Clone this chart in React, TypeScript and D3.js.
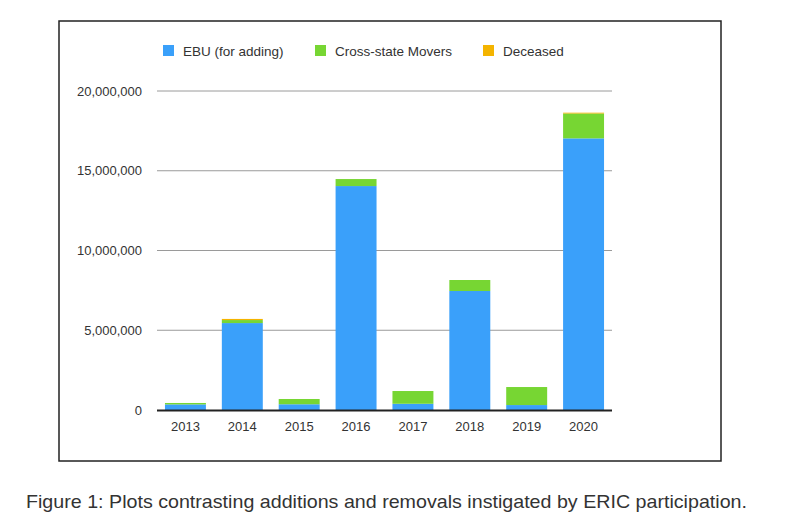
import { useEffect, useRef } from "react";
import * as d3 from "d3";

const years = ["2013", "2014", "2015", "2016", "2017", "2018", "2019", "2020"];
const ebu = [350000, 5450000, 360000, 14040000, 390000, 7460000, 310000, 17030000];
const movers = [90000, 190000, 330000, 440000, 800000, 690000, 1130000, 1560000];
const deceased = [0, 70000, 0, 0, 0, 0, 0, 50000];
const seriesNames = ["EBU (for adding)", "Cross-state Movers", "Deceased"];
const colors = ["#3aa0fa", "#77d633", "#f4b400"];
const yTicks = [0, 5000000, 10000000, 15000000, 20000000];
const caption = "Figure 1: Plots contrasting additions and removals instigated by ERIC participation.";

export default function App() {
  const ref = useRef<SVGSVGElement>(null);

  useEffect(() => {
    if (!ref.current) return;
    const svg = d3.select(ref.current);
    svg.selectAll("*").remove();
    const font = "'Liberation Sans', Arial, sans-serif";

    // outer frame
    svg.append("rect").attr("x", 59).attr("y", 21).attr("width", 662).attr("height", 440)
      .attr("fill", "none").attr("stroke", "#222").attr("stroke-width", 1.5);

    const x = d3.scaleBand().domain(years).range([157, 612]).paddingInner(0.28).paddingOuter(0.14);
    const y = d3.scaleLinear().domain([0, 20000000]).range([410, 91]);

    // gridlines
    svg.append("g").selectAll("line").data(yTicks.filter(t => t > 0)).join("line")
      .attr("x1", 157).attr("x2", 612).attr("y1", d => y(d)).attr("y2", d => y(d))
      .attr("stroke", "#9a9a9a").attr("stroke-width", 1);

    const rows = years.map((yr, i) => ({ year: yr, s0: ebu[i], s1: movers[i], s2: deceased[i] }));
    const stacked = d3.stack<any>().keys(["s0", "s1", "s2"])(rows);

    svg.append("g").selectAll("g").data(stacked).join("g")
      .attr("fill", (_, i) => colors[i])
      .selectAll("rect").data(d => d).join("rect")
      .attr("x", d => x(d.data.year)!)
      .attr("width", x.bandwidth())
      .attr("y", d => y(d[1]))
      .attr("height", d => Math.max(0, y(d[0]) - y(d[1])));

    // baseline
    svg.append("line").attr("x1", 157).attr("x2", 612).attr("y1", 410.5).attr("y2", 410.5)
      .attr("stroke", "#222").attr("stroke-width", 2);

    // y labels
    svg.append("g").selectAll("text").data(yTicks).join("text")
      .attr("x", 142).attr("y", d => y(d)).attr("dy", "0.35em")
      .attr("text-anchor", "end").style("font-family", font).style("font-size", "13px")
      .attr("fill", "#333").text(d => d3.format(",")(d));

    // x labels
    svg.append("g").selectAll("text").data(years).join("text")
      .attr("x", d => x(d)! + x.bandwidth() / 2).attr("y", 431)
      .attr("text-anchor", "middle").style("font-family", font).style("font-size", "13px")
      .attr("fill", "#333").text(d => d);

    // legend
    const legendX = [163, 315, 483];
    const lg = svg.append("g").selectAll("g").data(seriesNames).join("g")
      .attr("transform", (_, i) => `translate(${legendX[i]},45)`);
    lg.append("rect").attr("width", 11).attr("height", 11).attr("fill", (_, i) => colors[i]);
    lg.append("text").attr("x", 20).attr("y", 10.5)
      .style("font-family", font).style("font-size", "13.5px").attr("fill", "#333")
      .text(d => d);

    // caption
    svg.append("text").attr("x", 26).attr("y", 508)
      .attr("textLength", 721).attr("lengthAdjust", "spacingAndGlyphs")
      .style("font-family", font).style("font-size", "19px").attr("fill", "#333")
      .text(caption);
  }, []);

  return (
    <div style={{ position: "absolute", left: 0, top: 0, background: "#fff" }}>
      <svg ref={ref} width={787} height={528} />
    </div>
  );
}
